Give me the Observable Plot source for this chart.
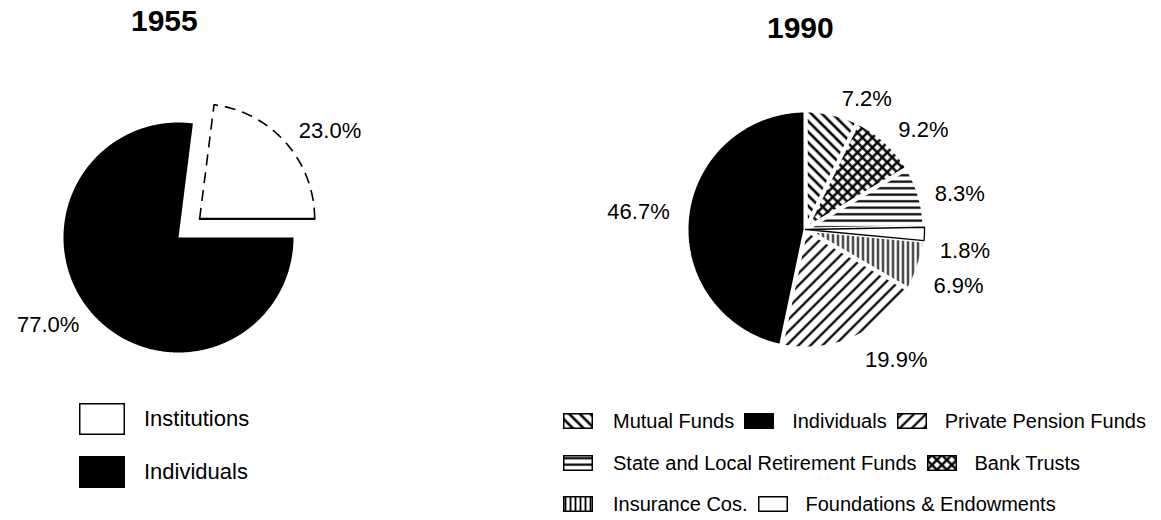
<!DOCTYPE html>
<html>
<head>
<meta charset="utf-8">
<script src="https://cdn.jsdelivr.net/npm/d3@7"></script>
<script src="https://cdn.jsdelivr.net/npm/@observablehq/plot@0.6"></script>
<style>
  html, body { margin: 0; padding: 0; background: #fff; }
  #chart { position: relative; width: 1161px; height: 520px; background: #fff; color: #000;
           font-family: "Liberation Sans", Arial, Helvetica, sans-serif; overflow: hidden; }
  .abs { position: absolute; white-space: nowrap; }
  .title { font-weight: bold; font-size: 30px; line-height: 30px; }
  .row { display: flex; align-items: center; }
  .lg55 { font-size: 22px; }
  .lg90 { font-size: 20px; }
  svg.icon { display: block; overflow: visible; }
</style>
</head>
<body>
<div id="chart"></div>
<script>
// ---------- data ----------
const years = ["1955", "1990"];

const cats1955 = ["Institutions", "Individuals"];
const vals1955 = [23.0, 77.0];

const cats1990 = ["Mutual Funds", "Bank Trusts", "State and Local Retirement Funds",
                  "Foundations & Endowments", "Insurance Cos.", "Private Pension Funds", "Individuals"];
const vals1990 = [7.2, 9.2, 8.3, 1.8, 6.9, 19.9, 46.7];

const legend1955 = ["Institutions", "Individuals"];
const legend1990Rows = [
  ["Mutual Funds", "Individuals", "Private Pension Funds"],
  ["State and Local Retirement Funds", "Bank Trusts"],
  ["Insurance Cos.", "Foundations & Endowments"]
];

// ---------- styles ----------
const fill1955 = {"Institutions": "white", "Individuals": "black"};
const fill1990 = {
  "Mutual Funds": "url(#p-mf)",
  "Bank Trusts": "url(#p-bt)",
  "State and Local Retirement Funds": "url(#p-sl)",
  "Foundations & Endowments": "white",
  "Insurance Cos.": "url(#p-ic)",
  "Private Pension Funds": "url(#p-ppf)",
  "Individuals": "black"
};
const FONT = "Liberation Sans, Arial, Helvetica, sans-serif";

// ---------- patterns ----------
const chart = document.getElementById("chart");
chart.insertAdjacentHTML("beforeend", `
<svg width="0" height="0" style="position:absolute">
  <defs>
    <pattern id="p-mf" patternUnits="userSpaceOnUse" width="7.5" height="7.5" patternTransform="rotate(-45)">
      <rect width="7.5" height="7.5" fill="white"/><line x1="3.75" y1="-1" x2="3.75" y2="9" stroke="black" stroke-width="2.6"/>
    </pattern>
    <pattern id="p-ppf" patternUnits="userSpaceOnUse" width="8.5" height="8.5" patternTransform="rotate(45)">
      <rect width="8.5" height="8.5" fill="white"/><line x1="4.25" y1="-1" x2="4.25" y2="10" stroke="black" stroke-width="2.2"/>
    </pattern>
    <pattern id="p-bt" patternUnits="userSpaceOnUse" width="7" height="7" patternTransform="rotate(45)">
      <rect width="7" height="7" fill="white"/>
      <line x1="3.5" y1="-1" x2="3.5" y2="8" stroke="black" stroke-width="2.4"/>
      <line x1="-1" y1="3.5" x2="8" y2="3.5" stroke="black" stroke-width="2.4"/>
    </pattern>
    <pattern id="p-sl" patternUnits="userSpaceOnUse" width="7" height="6.5">
      <rect width="7" height="6.5" fill="white"/><line x1="-1" y1="3.2" x2="8" y2="3.2" stroke="black" stroke-width="2.2"/>
    </pattern>
    <pattern id="p-ic" patternUnits="userSpaceOnUse" width="5" height="5">
      <rect width="5" height="5" fill="white"/><line x1="2.5" y1="-1" x2="2.5" y2="6" stroke="black" stroke-width="1.8"/>
    </pattern>
  </defs>
</svg>`);

// ---------- geometry helpers ----------
const RAD = Math.PI / 180;
function makeSlices(cats, vals, startDeg) {
  const total = d3.sum(vals);
  let a = startDeg;
  return cats.map((c, i) => {
    const a0 = a, a1 = a + vals[i] / total * 360;
    a = a1;
    return {cat: c, value: vals[i], a0, a1, mid: (a0 + a1) / 2};
  });
}
function polygon(s, r, off) {
  const ox = off * Math.sin(s.mid * RAD), oy = off * Math.cos(s.mid * RAD);
  const pts = [{x: ox, y: oy}];
  const n = Math.max(2, Math.ceil((s.a1 - s.a0) / 0.5));
  for (let k = 0; k <= n; k++) {
    const t = (s.a0 + (s.a1 - s.a0) * k / n) * RAD;
    pts.push({x: ox + r * Math.sin(t), y: oy + r * Math.cos(t)});
  }
  pts.push({x: ox, y: oy});
  return pts;
}
function frame(W, H, cx, cy, R) {
  return {x: [-cx / R, (W - cx) / R], y: [-(H - cy) / R, cy / R]};
}
function labelData(slices, lr, offs, nudges, R) {
  return slices.map((s, i) => {
    const off = offs[i] || 0;
    const ox = off * Math.sin(s.mid * RAD), oy = off * Math.cos(s.mid * RAD);
    const n = nudges[i] || [0, 0];
    return {
      x: ox + lr * Math.sin(s.mid * RAD) + n[0] / R,
      y: oy + lr * Math.cos(s.mid * RAD) - n[1] / R,
      text: s.value.toFixed(1) + "%",
      right: Math.sin(s.mid * RAD) >= 0
    };
  });
}
function placeSvg(svg, left, top) {
  svg.style.position = "absolute";
  svg.style.left = left + "px";
  svg.style.top = top + "px";
  chart.appendChild(svg);
}

// ---------- 1955 pie ----------
{
  const W = 400, H = 340, R = 115, cx = 178, cy = 189;
  const first = vals1955[0] / d3.sum(vals1955) * 360;
  const sl = makeSlices(cats1955, vals1955, 90 - first);   // Institutions ends at 3 o'clock
  const explode = [0.245, 0];
  const f = frame(W, H, cx, cy, R);
  const marks = sl.map((s, i) => Plot.line(polygon(s, 1, explode[i]), {
    x: "x", y: "y", curve: "linear",
    fill: fill1955[s.cat],
    stroke: s.cat === "Institutions" ? "black" : "none",
    strokeWidth: 1.6,
    strokeDasharray: s.cat === "Institutions" ? "11,7" : null,
    strokeLinecap: "butt"
  }));
  // solid lower radius of the detached slice
  const inst = sl[0], ipts = polygon(inst, 1, explode[0]);
  marks.push(Plot.line([ipts[0], ipts[ipts.length - 2]], {x: "x", y: "y", stroke: "black", strokeWidth: 2.2}));
  const lab = labelData(sl, 1.15, explode, [], R);
  marks.push(Plot.text(lab.filter(d => d.right), {x: "x", y: "y", text: "text", textAnchor: "start", fontSize: 22, fontFamily: FONT, fill: "black"}));
  marks.push(Plot.text(lab.filter(d => !d.right), {x: "x", y: "y", text: "text", textAnchor: "end", fontSize: 22, fontFamily: FONT, fill: "black"}));
  const svg = Plot.plot({
    width: W, height: H, margin: 0,
    x: {domain: f.x, axis: null}, y: {domain: f.y, axis: null},
    style: {background: "transparent", overflow: "visible"},
    marks
  });
  placeSvg(svg, 0, 48);
}

// ---------- 1990 pie ----------
{
  const W = 601, H = 340, R = 119, cx = 245, cy = 181;
  const sl = makeSlices(cats1990, vals1990, 0);
  const f = frame(W, H, cx, cy, R);
  const order = sl.filter(s => s.cat !== "Foundations & Endowments")
                  .concat(sl.filter(s => s.cat === "Foundations & Endowments"));
  const marks = order.map(s => Plot.line(polygon(s, 1, 0), {
    x: "x", y: "y", curve: "linear",
    fill: fill1990[s.cat],
    stroke: s.cat === "Foundations & Endowments" ? "black" : "white",
    strokeWidth: s.cat === "Foundations & Endowments" ? 1.3 : 4,
    strokeLinejoin: "miter"
  }));
  const nudges = [[6, 0], [2, 0], [0, 2], [0, 16], [0, 15], [5, 8], [-2, -4]];
  const lab = labelData(sl, 1.13, [], nudges, R);
  marks.push(Plot.text(lab.filter(d => d.right), {x: "x", y: "y", text: "text", textAnchor: "start", fontSize: 22, fontFamily: FONT, fill: "black"}));
  marks.push(Plot.text(lab.filter(d => !d.right), {x: "x", y: "y", text: "text", textAnchor: "end", fontSize: 22, fontFamily: FONT, fill: "black"}));
  const svg = Plot.plot({
    width: W, height: H, margin: 0,
    x: {domain: f.x, axis: null}, y: {domain: f.y, axis: null},
    style: {background: "transparent", overflow: "visible"},
    marks
  });
  placeSvg(svg, 560, 48);
}

// ---------- titles ----------
chart.insertAdjacentHTML("beforeend",
  `<div class="abs title" style="left:131px;top:6px">${years[0]}</div>
   <div class="abs title" style="left:767px;top:13px">${years[1]}</div>`);

// ---------- legends ----------
function icon(w, h, fill, sw) {
  return `<svg class="icon" width="${w}" height="${h}"><rect x="0.75" y="0.75" width="${w - 1.5}" height="${h - 1.5}" fill="${fill}" stroke="black" stroke-width="${sw}"/></svg>`;
}
{
  const tops = [403, 456];
  legend1955.forEach((c, i) => {
    chart.insertAdjacentHTML("beforeend",
      `<div class="abs row lg55" style="left:79px;top:${tops[i]}px;height:32px">
         ${icon(46, 32, fill1955[c], 1.5)}<span style="margin-left:19px">${c}</span></div>`);
  });
}
{
  const tops = [413, 455, 496];
  legend1990Rows.forEach((row, r) => {
    const parts = row.map((c, j) =>
      `<span style="display:inline-flex;align-items:center;margin-left:${j === 0 ? 0 : 10}px">
         ${icon(30, 16, fill1990[c], 1.5)}<span style="margin-left:${j === 0 ? 20 : 18}px">${c.replace("&", "&amp;")}</span></span>`).join("");
    chart.insertAdjacentHTML("beforeend",
      `<div class="abs row lg90" style="left:563px;top:${tops[r]}px;height:16px">${parts}</div>`);
  });
}
</script>
</body>
</html>
